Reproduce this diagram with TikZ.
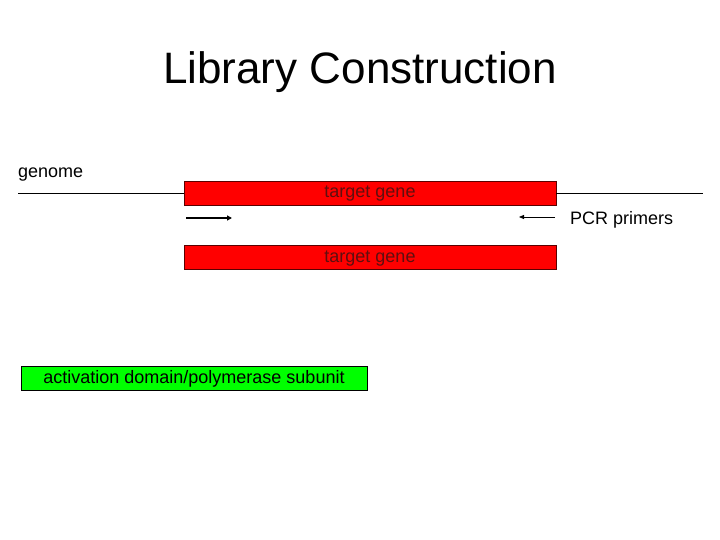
\documentclass[tikz,border=0pt]{standalone}
\usepackage{fontspec}
\setmainfont{Liberation Sans}
\usetikzlibrary{arrows.meta}
\definecolor{genered}{RGB}{255,0,0}
\definecolor{genetext}{RGB}{95,15,15}
\definecolor{boxgreen}{RGB}{0,255,0}
\begin{document}
\begin{tikzpicture}[x=1pt,y=-1pt,
  genebox/.style={draw={rgb,255:red,90;green,0;blue,0}, fill=genered, line width=0.8pt, minimum width=372pt, minimum height=24pt, inner sep=0pt, text=genetext, text height=12pt, text depth=2pt, font=\fontsize{18}{18}\selectfont},
  greenbox/.style={draw=black, fill=boxgreen, line width=0.8pt, minimum width=346pt, minimum height=24pt, inner sep=0pt, text height=12pt, text depth=2pt, font=\fontsize{18}{18}\selectfont},
  lbl/.style={inner sep=0pt, font=\fontsize{18}{18}\selectfont},
  dna/.style={line width=0.8pt}]
\useasboundingbox (0,0) rectangle (720,540);
\node[inner sep=0pt, font=\fontsize{44}{44}\selectfont] (title) at (360,72) {Library Construction};
\node[lbl, anchor=west] (genome) at (18,175) {genome};
\node[genebox] (g1) at (370,193) {target gene};
\node[genebox] (g2) at (370,257) {target gene};
\coordinate (gl) at (18,193);
\coordinate (gr) at (703,193);
\draw[dna] (gl) -- (g1.west);
\draw[dna] (g1.east) -- (gr);
\coordinate (p1s) at (186,218);
\coordinate (p1e) at (232,218);
\coordinate (p2s) at (555,217);
\coordinate (p2e) at (519,217);
\draw[line width=1.5pt, -{Triangle[length=5pt,width=5pt]}] (p1s) -- (p1e);
\draw[line width=0.8pt, -{Triangle[length=5pt,width=4pt]}] (p2s) -- (p2e);
\node[lbl, anchor=west] (pcr) at (570,220) {PCR primers};
\node[greenbox] (ad) at (194,378) {activation domain/polymerase subunit};
\end{tikzpicture}
\end{document}
